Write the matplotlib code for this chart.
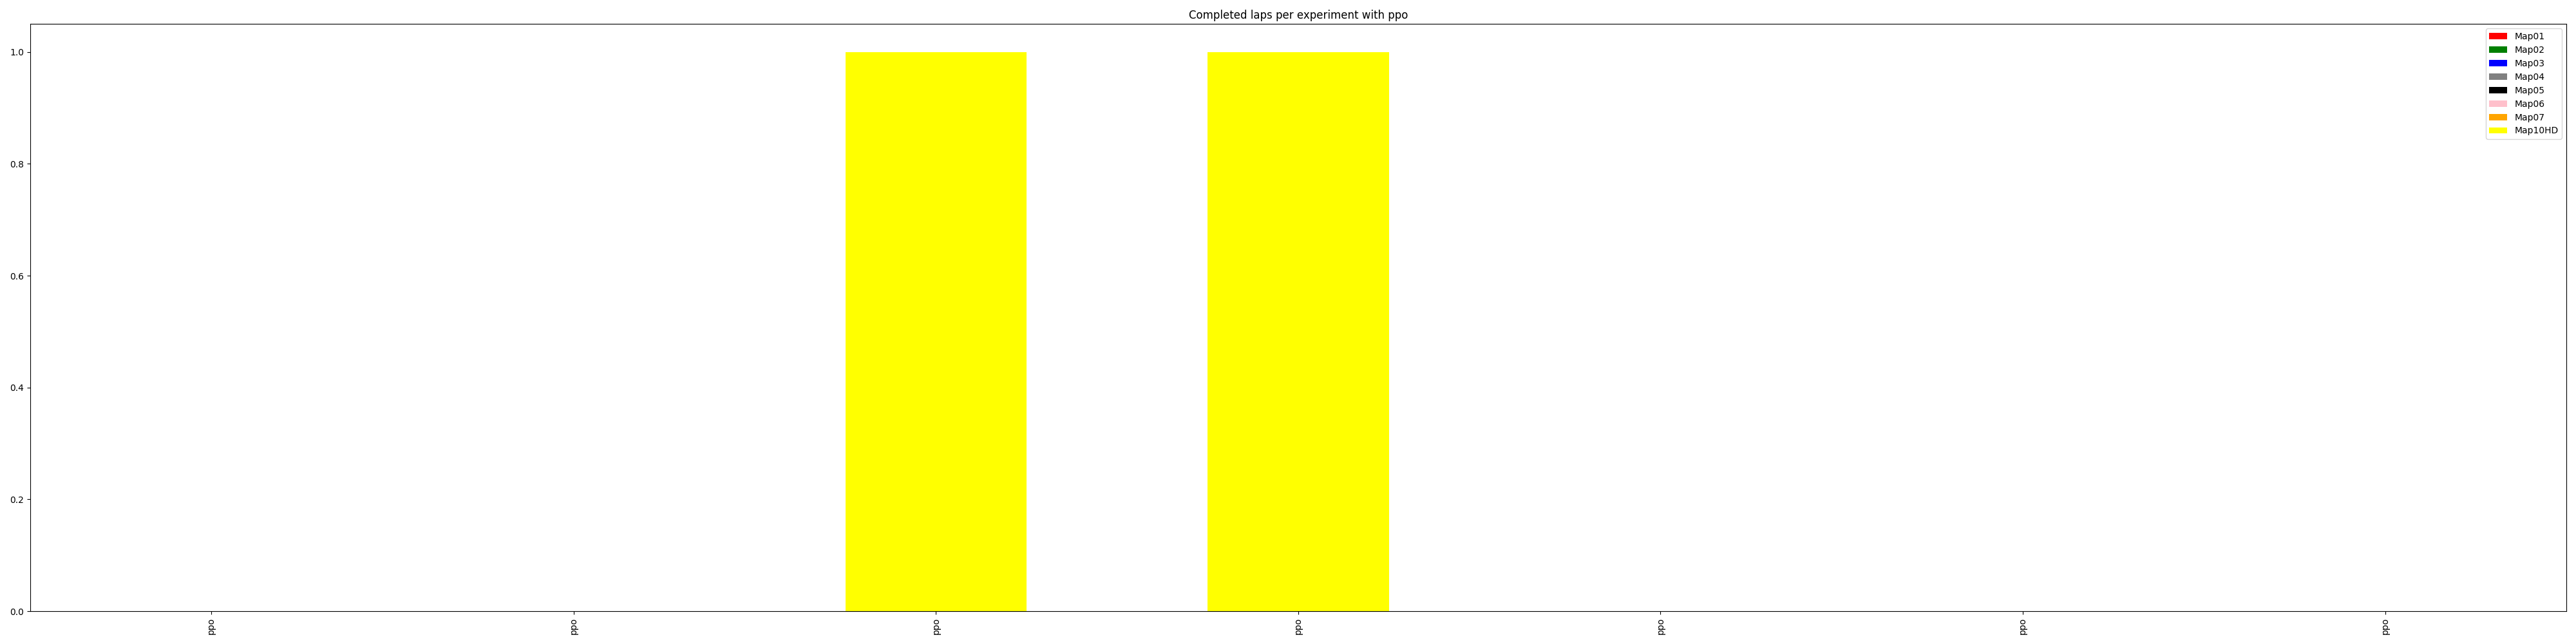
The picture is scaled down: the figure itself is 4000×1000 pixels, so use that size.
import matplotlib
matplotlib.use("Agg")
import matplotlib.pyplot as plt
import numpy as np

experiments = ["ppo", "ppo", "ppo", "ppo", "ppo", "ppo", "ppo"]
maps = ["Map01", "Map02", "Map03", "Map04", "Map05", "Map06", "Map07", "Map10HD"]
colors = ["red", "green", "blue", "gray", "black", "pink", "orange", "yellow"]
map01 = [0, 0, 0, 0, 0, 0, 0]
map02 = [0, 0, 0, 0, 0, 0, 0]
map03 = [0, 0, 0, 0, 0, 0, 0]
map04 = [0, 0, 0, 0, 0, 0, 0]
map05 = [0, 0, 0, 0, 0, 0, 0]
map06 = [0, 0, 0, 0, 0, 0, 0]
map07 = [0, 0, 0, 0, 0, 0, 0]
map10hd = [0, 0, 1, 1, 0, 0, 0]
series = [map01, map02, map03, map04, map05, map06, map07, map10hd]

fig, ax = plt.subplots(figsize=(40, 10), dpi=100)
x = np.arange(len(experiments))
bottom = np.zeros(len(experiments))
for name, col, vals in zip(maps, colors, series):
    vals = np.array(vals, dtype=float)
    ax.bar(x, vals, width=0.5, bottom=bottom, color=col, label=name)
    bottom += vals

ax.set_xlim(-0.5, len(experiments) - 0.5)
ax.set_xticks(x)
ax.set_xticklabels(experiments, rotation=90)
ax.set_title("Completed laps per experiment with ppo")
ax.legend(loc="upper right")
fig.tight_layout()
fig.savefig("out.png", dpi=100)
